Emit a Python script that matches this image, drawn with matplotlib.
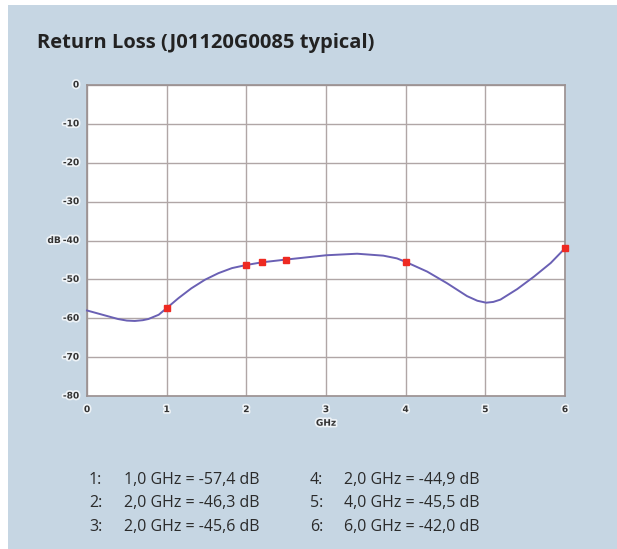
import matplotlib
matplotlib.use("Agg")
import matplotlib.pyplot as plt
from matplotlib.patches import Rectangle
import matplotlib.patheffects as pe

# ---- data ----
curve_ghz = [0.0, 0.23, 0.39, 0.50, 0.60, 0.70, 0.77, 0.90, 1.0, 1.15, 1.31, 1.48, 1.65, 1.82, 2.0,
             2.2, 2.5, 3.0, 3.39, 3.72, 3.89, 4.0, 4.27, 4.52, 4.77, 4.90, 5.01, 5.10, 5.19,
             5.40, 5.61, 5.82, 6.0]
curve_db = [-58.0, -59.3, -60.2, -60.6, -60.7, -60.5, -60.2, -59.1, -57.4, -54.8, -52.3, -50.1, -48.4, -47.1, -46.3,
            -45.6, -44.9, -43.8, -43.4, -43.9, -44.6, -45.5, -48.0, -51.0, -54.3, -55.5, -56.0, -55.8, -55.2,
            -52.5, -49.3, -45.8, -42.0]
marker_ghz = [1.0, 2.0, 2.2, 2.5, 4.0, 6.0]
marker_db = [-57.4, -46.3, -45.6, -44.9, -45.5, -42.0]
x_ticks = [0, 1, 2, 3, 4, 5, 6]
y_ticks = [0, -10, -20, -30, -40, -50, -60, -70, -80]
title = "Return Loss (J01120G0085 typical)"
legend_ids = ["1:", "2:", "3:", "4:", "5:", "6:"]
legend_texts = ["1,0 GHz = -57,4 dB", "2,0 GHz = -46,3 dB", "2,0 GHz = -45,6 dB",
                "2,0 GHz = -44,9 dB", "4,0 GHz = -45,5 dB", "6,0 GHz = -42,0 dB"]

W, H = 617, 549
fig = plt.figure(figsize=(W / 100, H / 100), dpi=100, facecolor="white")
bg = "#c6d6e3"
fig.patches.append(Rectangle((8 / W, 0), 1 - 8 / W, 1 - 5 / H, transform=fig.transFigure,
                             facecolor=bg, edgecolor="none", zorder=-10))

def fx(px):
    return px / W

def fy(py):
    return 1 - py / H

ax = fig.add_axes([fx(87), fy(396), fx(565) - fx(87), fy(85) - fy(396)])
ax.set_facecolor("white")
ax.set_xlim(0, 6)
ax.set_ylim(-80, 0)
ax.set_xticks(x_ticks)
ax.set_yticks(y_ticks)
ax.grid(True, color="#b0a6a6", linewidth=1.0)
ax.set_axisbelow(True)
for s in ax.spines.values():
    s.set_color("#9a9090")
    s.set_linewidth(1.2)
ax.tick_params(length=0, pad=6)
ax.set_xticklabels([])
ax.set_yticklabels([])

halo = [pe.withStroke(linewidth=2.5, foreground="#eef3f7")]
for t in y_ticks:
    ax.text(-0.1, t, str(t), ha="right", va="center", fontsize=6.5, fontweight="bold",
            color="#333333", path_effects=halo, clip_on=False)
for t in x_ticks:
    ax.text(t, -83.5, str(t), ha="center", va="center", fontsize=6.5, fontweight="bold",
            color="#333333", path_effects=halo, clip_on=False)
ax.text(3, -87.0, "GHz", ha="center", va="center", fontsize=6.5, fontweight="bold",
        color="#333333", path_effects=halo, clip_on=False)
ax.text(-0.33, -40, "dB", ha="right", va="center", fontsize=6.5, fontweight="bold",
        color="#333333", path_effects=halo, clip_on=False)

ax.plot(curve_ghz, curve_db, color="#6a60b4", linewidth=1.4, zorder=3, clip_on=False,
        solid_joinstyle="round")
ax.plot(marker_ghz, marker_db, linestyle="none", marker="s", markersize=5,
        color="#ee2a22", zorder=4, clip_on=False)

fig.text(fx(37), fy(43), title, fontsize=14.5, fontweight="bold", family="Open Sans",
         color="#222222", ha="left", va="center")

rows_y = [480, 503, 527]
for i in range(6):
    col = i // 3
    row = i % 3
    x_id = 89 if col == 0 else 310
    x_tx = 124 if col == 0 else 344
    fig.text(fx(x_id), fy(rows_y[row]), legend_ids[i], fontsize=11.5, family="Open Sans",
             color="#2a2a2a", ha="left", va="center")
    fig.text(fx(x_tx), fy(rows_y[row]), legend_texts[i], fontsize=11.5, family="Open Sans",
             color="#2a2a2a", ha="left", va="center")

fig.savefig("out.png", dpi=100, facecolor=fig.get_facecolor())
